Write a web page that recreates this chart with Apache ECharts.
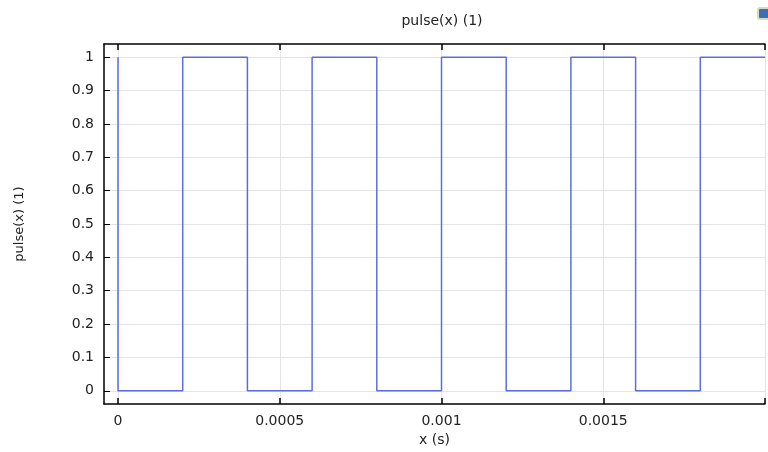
<!DOCTYPE html>
<html>
<head>
<meta charset="utf-8">
<script src="https://cdn.jsdelivr.net/npm/echarts@6/dist/echarts.min.js"></script>
<style>html,body{margin:0;padding:0;background:#fff;overflow:hidden;}#c{width:768px;height:452px;}</style>
</head>
<body>
<div id="c"></div>
<script>
const chartTitle = 'pulse(x) (1)';
const xAxisName = 'x (s)';
const yAxisName = 'pulse(x) (1)';
const xValues = [0, 0, 0.0002, 0.0002, 0.0004, 0.0004, 0.0006, 0.0006, 0.0008, 0.0008, 0.0010, 0.0010, 0.0012, 0.0012, 0.0014, 0.0014, 0.0016, 0.0016, 0.0018, 0.0018, 0.0020];
const yValues = [1, 0, 0, 1, 1, 0, 0, 1, 1, 0, 0, 1, 1, 0, 0, 1, 1, 0, 0, 1, 1];
const xTicks = [0, 0.0005, 0.001, 0.0015, 0.002];
const xTickLabels = ['0', '0.0005', '0.001', '0.0015', ''];
const yTicks = [0, 0.1, 0.2, 0.3, 0.4, 0.5, 0.6, 0.7, 0.8, 0.9, 1];
const yTickLabels = ['0', '0.1', '0.2', '0.3', '0.4', '0.5', '0.6', '0.7', '0.8', '0.9', '1'];
const xMin = -0.0000433, xMax = 0.002;
const yMin = -0.04, yMax = 1.04;

const font = 'DejaVu Sans';
const chart = echarts.init(document.getElementById('c'));
const xLabelMap = {}; xTicks.forEach((v, i) => xLabelMap[v] = xTickLabels[i]);
const yLabelMap = {}; yTicks.forEach((v, i) => yLabelMap[v] = yTickLabels[i]);

const lineStyleAxis = { color: '#000', width: 1.5 };
chart.setOption({
  animation: false,
  title: { text: chartTitle, left: 437, textAlign: 'center', top: 9,
    textStyle: { fontFamily: font, fontSize: 14, fontWeight: 'normal', color: '#222' } },
  grid: { left: 104, right: 3, top: 44, bottom: 38, containLabel: false },
  xAxis: [{
    type: 'value', min: xMin, max: xMax, position: 'bottom',
    name: xAxisName, nameLocation: 'middle', nameGap: 22,
    nameTextStyle: { fontFamily: font, fontSize: 14, color: '#222' },
    axisLine: { show: true, onZero: false, lineStyle: lineStyleAxis },
    axisTick: { show: true, inside: true, length: 6, customValues: xTicks, lineStyle: { color: '#000', width: 1.5 } },
    axisLabel: { customValues: xTicks, fontFamily: font, fontSize: 14, color: '#222', margin: 10,
      formatter: v => xLabelMap[v] !== undefined ? xLabelMap[v] : '' },
    splitLine: { show: true, lineStyle: { color: '#e4e4e4', width: 1 } }
  }, {
    type: 'value', min: xMin, max: xMax, position: 'top',
    axisLine: { show: true, onZero: false, lineStyle: lineStyleAxis },
    axisTick: { show: true, inside: true, length: 6, customValues: xTicks, lineStyle: { color: '#000', width: 1.5 } },
    axisLabel: { show: false }, splitLine: { show: false }
  }],
  yAxis: [{
    type: 'value', min: yMin, max: yMax, position: 'left',
    name: yAxisName, nameLocation: 'middle', nameGap: 78, nameRotate: 90,
    nameTextStyle: { fontFamily: font, fontSize: 13, color: '#222' },
    axisLine: { show: true, onZero: false, lineStyle: lineStyleAxis },
    axisTick: { show: true, inside: true, length: 6, customValues: yTicks, lineStyle: { color: '#000', width: 1 } },
    axisLabel: { customValues: yTicks, fontFamily: font, fontSize: 14, color: '#222', margin: 10,
      formatter: v => { const k = Math.round(v * 10) / 10; return yLabelMap[k] !== undefined ? yLabelMap[k] : ''; } },
    splitLine: { show: true, lineStyle: { color: '#e4e4e4', width: 1 } }
  }],
  graphic: [{
    type: 'rect', shape: { x: 758, y: 8, width: 12, height: 11, r: 2 },
    style: { fill: '#3f6fb3', stroke: '#d4dcc0', lineWidth: 2 }
  }],
  series: [{
    type: 'line', xAxisIndex: 0, yAxisIndex: 0,
    data: xValues.map((x, i) => [x, yValues[i]]),
    showSymbol: false, symbol: 'none',
    lineStyle: { color: '#5a6ee0', width: 1.5 },
    clip: true
  }]
});
</script>
</body>
</html>
